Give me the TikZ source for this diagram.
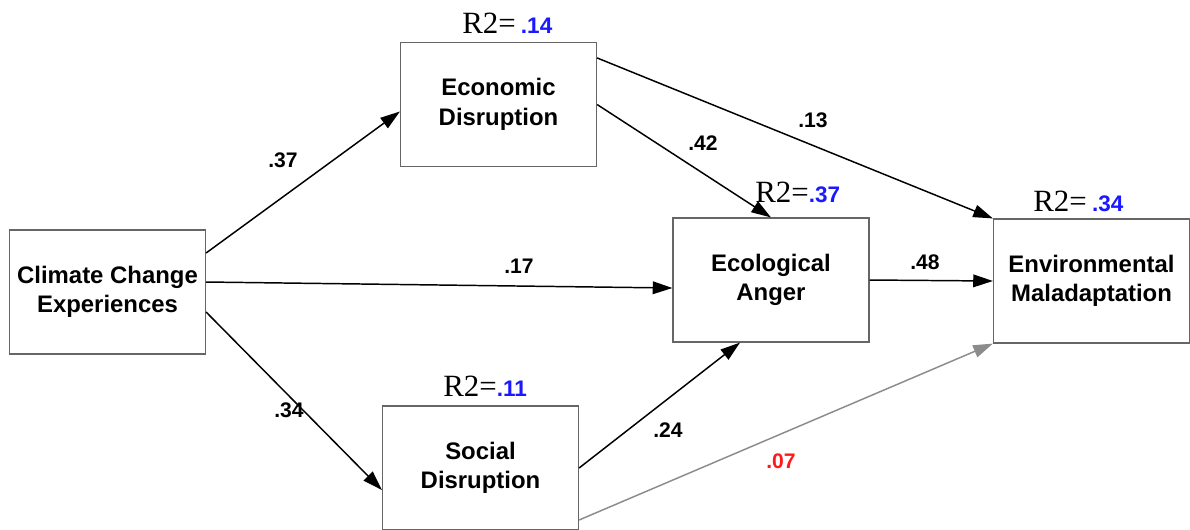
\documentclass[tikz,border=0pt]{standalone}
\usepackage{fontspec}
\setmainfont{Liberation Sans}
\newfontfamily\rtwofont{Liberation Serif}
\usetikzlibrary{arrows.meta,calc}

\definecolor{rblue}{RGB}{25,25,255}
\definecolor{rred}{RGB}{255,25,25}

\tikzset{
	var/.style={draw=black!60, line width=0.8pt, minimum width=4.9cm, minimum height=3.1cm, inner sep=0pt, align=center, font=\fontsize{17}{21}\selectfont\bfseries},
	effect/.style={-{Triangle[length=14pt,width=9pt]}, line width=1.05pt},
	coef/.style={font=\fontsize{15}{18}\selectfont\bfseries, inner sep=0pt},
	rsq/.style={anchor=base west, inner sep=0pt}
}

\newcommand{\rsquare}[2]{{\rtwofont\fontsize{22}{24}\selectfont R2=#1}{\fontsize{16}{18}\selectfont\bfseries\color{rblue}#2}}

\begin{document}
\begin{tikzpicture}[x=0.025cm, y=-0.025cm]
				\useasboundingbox (0,0) rectangle (1190,529);

				% variables
				\node (clim) [var] at (107.5,292) {Climate Change\\Experiences};
				\node (econ) [var] at (498.5,104.5) {Economic\\Disruption};
				\node (ecol) [var] at (771,280) {Ecological\\Anger};
				\node (env) [var] at (1091.5,281) {Environmental\\Maladaptation};
				\node (soc) [var] at (480.5,468) {Social\\Disruption};

				% explained variance
				\node (r2econ) [rsq] at (462,33) {\rsquare{\,}{.14}};
				\node (r2ecol) [rsq] at (755,202) {\rsquare{}{.37}};
				\node (r2env) [rsq] at (1033,211) {\rsquare{\,}{.34}};
				\node (r2soc) [rsq] at (443,396) {\rsquare{}{.11}};

				% paths
				\draw[effect] ($(clim.east)+(0,-39)$) -- ($(econ.west)+(0,7)$);
				\draw[effect] ($(clim.east)+(0,-10)$) -- ($(ecol.west)+(0,8)$);
				\draw[effect] ($(clim.east)+(0,20)$) -- ($(soc.west)+(0,22)$);
				\draw[effect] (econ.east) -- (ecol.north);
				\draw[effect] ($(econ.north east)+(0,16)$) -- (env.north west);
				\draw[effect] (ecol.east) -- (env.west);
				\draw[effect] (soc.east) -- ($(ecol.south)+(-31,0)$);
				\draw[effect, draw=black!45, -{Triangle[length=14pt,width=9pt,fill=black!45]}] ($(soc.east)+(0,52)$) -- (env.south west);

				% coefficients
				\node (c37) [coef] at (283,160) {.37};
				\node (c17) [coef] at (519,266) {.17};
				\node (c34) [coef] at (289,410) {.34};
				\node (c42) [coef] at (703,143) {.42};
				\node (c13) [coef] at (813,120) {.13};
				\node (c48) [coef] at (925,262) {.48};
				\node (c24) [coef] at (668,430) {.24};
				\node (c07) [coef, text=rred] at (781,461) {.07};
\end{tikzpicture}
\end{document}
